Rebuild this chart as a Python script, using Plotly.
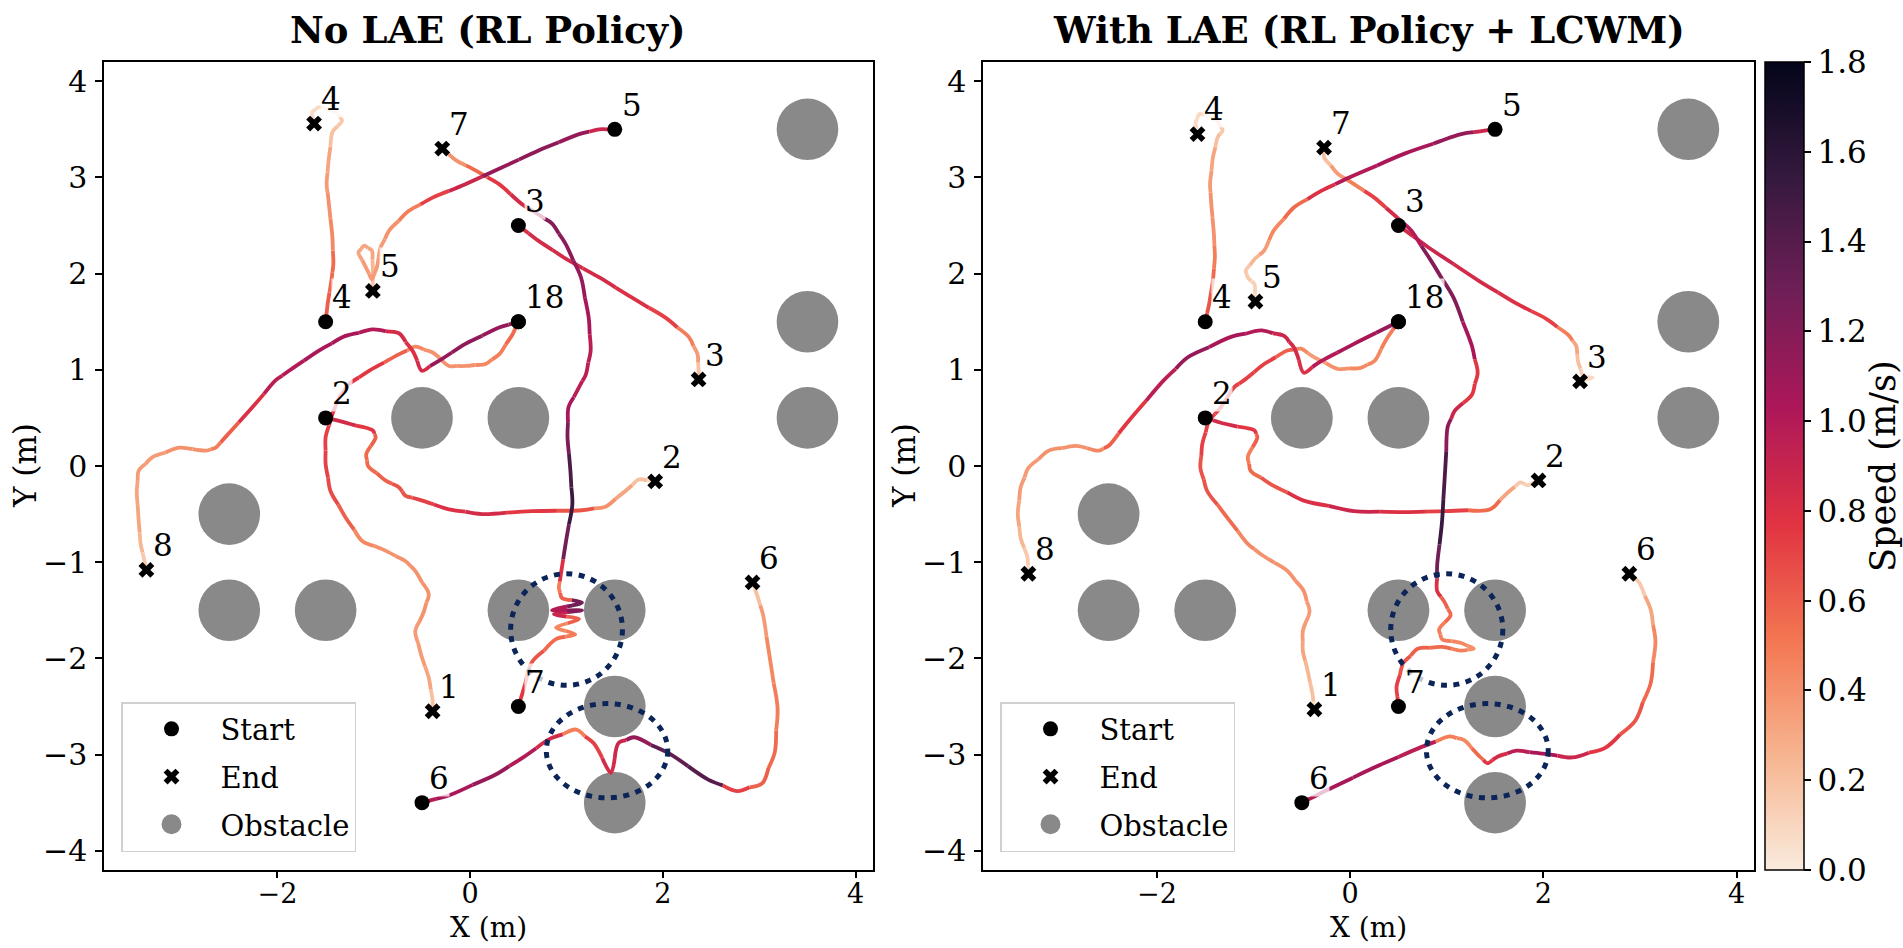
import plotly.graph_objects as go

FONT = "DejaVu Serif"
VMAX = 1.8

# ---------------- data ----------------
OBST_X = [3.5, 3.5, 3.5, -0.5, 0.5, -2.5, -2.5, -1.5, 0.5, 1.5, 1.5, 1.5]
OBST_Y = [3.5, 1.5, 0.5, 0.5, 0.5, -0.5, -1.5, -1.5, -1.5, -1.5, -2.5, -3.5]
OBST_R = 0.32

HL_CX = [1.0, 1.42]
HL_CY = [-1.7, -2.96]
HL_RX = [0.58, 0.63]
HL_RY = [0.58, 0.49]

AGENTS = ["1", "2", "3", "4", "5", "6", "7", "8"]
START_X = [0.5, -1.5, 0.5, -1.5, 1.5, -0.5, 0.5, 0.5]
START_Y = [1.5, 0.5, 2.5, 1.5, 3.5, -3.5, -2.5, 1.5]

END_X_L = [-0.39, 1.92, 2.37, -1.62, -1.01, 2.93, -0.29, -3.36]
END_Y_L = [-2.55, -0.16, 0.90, 3.56, 1.82, -1.21, 3.30, -1.08]
END_X_R = [-0.37, 1.95, 2.38, -1.58, -0.98, 2.89, -0.27, -3.33]
END_Y_R = [-2.53, -0.15, 0.88, 3.45, 1.71, -1.12, 3.31, -1.12]

# ---- Left panel (No LAE) trajectories: x, y, speed (m/s)
L1_X = [0.5, 0.44, 0.30, 0.16, -0.05, -0.22, -0.39, -0.57, -0.74, -1.05, -1.26, -1.36, -1.43, -1.50, -1.50, -1.45, -1.29, -1.12, -0.88, -0.67, -0.57, -0.43, -0.48, -0.57, -0.51, -0.43, -0.39, -0.39]
L1_Y = [1.5, 1.37, 1.16, 1.06, 1.04, 1.04, 1.18, 1.24, 1.16, 0.99, 0.85, 0.71, 0.54, 0.30, 0.02, -0.26, -0.54, -0.78, -0.88, -0.99, -1.09, -1.33, -1.51, -1.72, -1.96, -2.20, -2.44, -2.55]
L1_V = [0.6, 0.55, 0.5, 0.45, 0.4, 0.38, 0.4, 0.45, 0.6, 0.75, 0.75, 0.75, 0.75, 0.72, 0.7, 0.68, 0.6, 0.45, 0.4, 0.4, 0.4, 0.38, 0.38, 0.35, 0.35, 0.3, 0.2, 0.1]

L2_X = [-1.5, -1.36, -1.01, -0.98, -1.08, -1.06, -0.88, -0.74, -0.67, -0.53, -0.22, 0.12, 0.64, 1.16, 1.41, 1.61, 1.75, 1.92]
L2_Y = [0.5, 0.47, 0.37, 0.30, 0.12, 0.00, -0.15, -0.22, -0.31, -0.35, -0.45, -0.50, -0.47, -0.46, -0.42, -0.26, -0.14, -0.16]
L2_V = [0.85, 0.85, 0.75, 0.6, 0.55, 0.55, 0.6, 0.62, 0.65, 0.7, 0.8, 0.85, 0.75, 0.62, 0.42, 0.3, 0.2, 0.1]

L3_X = [0.5, 0.71, 1.00, 1.34, 1.68, 2.03, 2.27, 2.36, 2.37, 2.37]
L3_Y = [2.5, 2.34, 2.15, 1.96, 1.75, 1.54, 1.34, 1.16, 0.99, 0.90]
L3_V = [0.8, 0.85, 0.85, 0.85, 0.8, 0.7, 0.5, 0.35, 0.2, 0.1]

L4_X = [-1.5, -1.48, -1.44, -1.42, -1.43, -1.47, -1.49, -1.47, -1.43, -1.33, -1.39, -1.57, -1.64, -1.62]
L4_Y = [1.5, 1.68, 1.93, 2.10, 2.38, 2.76, 2.93, 3.17, 3.47, 3.59, 3.68, 3.73, 3.68, 3.56]
L4_V = [0.65, 0.6, 0.55, 0.55, 0.45, 0.4, 0.35, 0.3, 0.2, 0.15, 0.1, 0.1, 0.08, 0.05]

L5_X = [1.5, 1.34, 1.13, 0.71, 0.30, -0.05, -0.39, -0.64, -0.84, -0.93, -0.97, -1.02, -1.08, -1.16, -1.10, -1.02, -1.01, -1.01, -1.01]
L5_Y = [3.5, 3.50, 3.45, 3.28, 3.09, 2.93, 2.79, 2.65, 2.45, 2.27, 2.06, 1.94, 2.06, 2.22, 2.29, 2.24, 2.06, 1.89, 1.82]
L5_V = [0.75, 0.9, 1.1, 1.15, 1.1, 0.9, 0.7, 0.5, 0.4, 0.35, 0.35, 0.35, 0.35, 0.33, 0.32, 0.3, 0.25, 0.15, 0.1]

L6_X = [-0.5, -0.21, 0.26, 0.55, 0.82, 1.10, 1.28, 1.46, 1.54, 1.70, 2.05, 2.47, 2.77, 3.03, 3.16, 3.19, 3.11, 3.04, 2.98, 2.93]
L6_Y = [-3.5, -3.42, -3.21, -3.03, -2.84, -2.74, -2.88, -3.19, -2.88, -2.82, -2.98, -3.26, -3.38, -3.30, -2.98, -2.52, -2.00, -1.55, -1.35, -1.21]
L6_V = [1.0, 1.05, 1.1, 1.0, 0.85, 0.5, 0.7, 0.85, 0.9, 1.1, 1.35, 1.4, 0.7, 0.6, 0.55, 0.5, 0.45, 0.35, 0.2, 0.1]

L7_X = [0.5, 0.64, 0.89, 1.09, 0.89, 1.13, 0.87, 1.16, 0.85, 1.16, 0.95, 0.92, 0.94, 0.99, 1.06, 1.04, 1.01, 1.02, 1.13, 1.20, 1.25, 1.23, 1.15, 0.99, 0.85, 0.70, 0.54, 0.30, 0.06, -0.15, -0.29]
L7_Y = [-2.5, -2.04, -1.80, -1.75, -1.68, -1.59, -1.54, -1.50, -1.50, -1.42, -1.37, -1.27, -1.13, -0.81, -0.40, -0.05, 0.30, 0.61, 0.82, 0.95, 1.20, 1.54, 1.96, 2.31, 2.52, 2.62, 2.72, 2.93, 3.07, 3.18, 3.30]
L7_V = [0.75, 0.65, 0.55, 0.5, 0.45, 0.6, 0.9, 1.2, 1.0, 1.3, 0.6, 0.5, 0.8, 1.3, 1.5, 1.45, 1.25, 1.05, 0.95, 0.95, 0.95, 1.05, 1.1, 1.15, 1.2, 1.0, 0.85, 0.75, 0.55, 0.4, 0.2]

L8_X = [0.5, 0.30, -0.05, -0.33, -0.50, -0.60, -0.74, -1.01, -1.30, -1.57, -1.88, -2.02, -2.26, -2.54, -2.64, -2.74, -3.02, -3.30, -3.44, -3.46, -3.44, -3.42, -3.38, -3.36]
L8_Y = [1.5, 1.44, 1.27, 1.09, 0.99, 1.20, 1.38, 1.42, 1.35, 1.20, 0.99, 0.89, 0.61, 0.30, 0.19, 0.16, 0.19, 0.09, -0.05, -0.26, -0.57, -0.81, -0.99, -1.08]
L8_V = [1.1, 1.1, 1.15, 1.1, 0.85, 0.8, 0.85, 1.0, 1.05, 1.05, 1.0, 0.95, 0.8, 0.6, 0.5, 0.4, 0.38, 0.35, 0.35, 0.33, 0.3, 0.25, 0.15, 0.1]

# ---- Right panel (With LAE) trajectories
R1_X = [0.5, 0.39, 0.25, 0.11, -0.13, -0.37, -0.51, -0.65, -0.89, -1.10, -1.20, -1.34, -1.46, -1.53, -1.55, -1.48, -1.27, -1.06, -0.92, -0.65, -0.48, -0.42, -0.49, -0.49, -0.44, -0.39, -0.37]
R1_Y = [1.5, 1.34, 1.09, 1.02, 1.01, 1.13, 1.22, 1.20, 1.06, 0.89, 0.82, 0.61, 0.47, 0.23, -0.02, -0.26, -0.54, -0.81, -0.92, -1.09, -1.30, -1.51, -1.72, -1.92, -2.13, -2.37, -2.53]
R1_V = [0.6, 0.5, 0.45, 0.45, 0.4, 0.35, 0.45, 0.6, 0.7, 0.7, 0.7, 0.7, 0.7, 0.7, 0.65, 0.65, 0.55, 0.45, 0.4, 0.4, 0.4, 0.35, 0.35, 0.3, 0.25, 0.2, 0.1]

R2_X = [-1.5, -1.34, -0.99, -0.96, -1.06, -1.03, -0.82, -0.48, 0.04, 0.56, 0.99, 1.45, 1.65, 1.76, 1.84, 1.95]
R2_Y = [0.5, 0.45, 0.37, 0.30, 0.09, -0.05, -0.19, -0.36, -0.47, -0.48, -0.47, -0.45, -0.26, -0.17, -0.20, -0.15]
R2_V = [0.85, 0.85, 0.75, 0.6, 0.5, 0.55, 0.65, 0.8, 0.88, 0.8, 0.72, 0.55, 0.3, 0.15, 0.12, 0.1]

R3_X = [0.5, 0.80, 1.34, 1.72, 2.03, 2.26, 2.34, 2.36, 2.41, 2.51, 2.38]
R3_Y = [2.5, 2.28, 1.92, 1.69, 1.53, 1.36, 1.25, 1.08, 0.94, 0.92, 0.88]
R3_V = [0.85, 0.9, 0.85, 0.8, 0.7, 0.5, 0.3, 0.2, 0.12, 0.1, 0.1]

R4_X = [-1.5, -1.46, -1.42, -1.40, -1.41, -1.44, -1.45, -1.42, -1.37, -1.32, -1.37, -1.48, -1.56, -1.60, -1.58]
R4_Y = [1.5, 1.68, 1.93, 2.17, 2.41, 2.76, 2.93, 3.21, 3.42, 3.49, 3.58, 3.64, 3.66, 3.57, 3.45]
R4_V = [0.7, 0.65, 0.55, 0.5, 0.42, 0.38, 0.35, 0.3, 0.2, 0.15, 0.12, 0.1, 0.08, 0.07, 0.05]

R5_X = [1.5, 1.41, 1.15, 0.57, -0.01, -0.30, -0.58, -0.79, -0.89, -0.99, -1.08, -1.06, -0.99, -0.98]
R5_Y = [3.5, 3.49, 3.45, 3.25, 3.00, 2.86, 2.69, 2.45, 2.24, 2.15, 2.03, 1.96, 1.89, 1.71]
R5_V = [0.8, 0.9, 1.1, 1.05, 1.0, 0.8, 0.55, 0.45, 0.35, 0.25, 0.18, 0.15, 0.12, 0.1]

R6_X = [-0.5, -0.20, 0.26, 0.74, 1.03, 1.18, 1.34, 1.42, 1.53, 1.72, 1.99, 2.30, 2.64, 2.95, 3.11, 3.16, 3.11, 2.99, 2.89]
R6_Y = [-3.5, -3.35, -3.13, -2.92, -2.81, -2.85, -3.02, -3.09, -3.02, -2.96, -2.99, -3.03, -2.93, -2.65, -2.26, -1.82, -1.49, -1.21, -1.12]
R6_V = [1.0, 1.05, 1.05, 0.95, 0.5, 0.45, 0.55, 0.75, 0.85, 0.95, 1.05, 0.9, 0.75, 0.65, 0.55, 0.45, 0.3, 0.15, 0.1]

R7_X = [0.5, 0.48, 0.55, 0.70, 0.95, 1.15, 1.28, 1.15, 0.95, 0.92, 1.04, 0.98, 0.90, 0.90, 0.95, 0.98, 1.01, 1.08, 1.26, 1.32, 1.26, 1.07, 0.84, 0.63, 0.49, 0.25, 0.04, -0.13, -0.27, -0.27]
R7_Y = [-2.5, -2.30, -2.05, -1.90, -1.88, -1.92, -1.90, -1.84, -1.80, -1.70, -1.55, -1.42, -1.30, -1.04, -0.59, -0.10, 0.41, 0.57, 0.74, 0.97, 1.25, 1.75, 2.13, 2.45, 2.58, 2.79, 2.93, 3.04, 3.21, 3.31]
R7_V = [0.75, 0.72, 0.65, 0.6, 0.55, 0.5, 0.4, 0.45, 0.5, 0.5, 0.55, 0.6, 0.8, 1.3, 1.5, 1.45, 1.15, 0.9, 0.75, 0.75, 1.05, 1.2, 1.2, 1.0, 0.85, 0.7, 0.5, 0.35, 0.2, 0.1]

R8_X = [0.5, 0.04, -0.30, -0.48, -0.58, -0.68, -0.92, -1.24, -1.68, -1.93, -2.29, -2.50, -2.60, -2.84, -3.12, -3.33, -3.41, -3.44, -3.41, -3.34, -3.33]
R8_Y = [1.5, 1.27, 1.09, 0.97, 1.23, 1.35, 1.41, 1.34, 1.13, 0.89, 0.47, 0.21, 0.16, 0.21, 0.16, -0.02, -0.22, -0.50, -0.75, -0.95, -1.12]
R8_V = [1.1, 1.05, 1.0, 0.8, 0.85, 0.9, 1.0, 1.05, 1.1, 0.95, 0.75, 0.6, 0.45, 0.4, 0.4, 0.35, 0.35, 0.3, 0.25, 0.15, 0.1]

LEFT_TRAJ = [(L1_X, L1_Y, L1_V), (L2_X, L2_Y, L2_V), (L3_X, L3_Y, L3_V), (L4_X, L4_Y, L4_V),
             (L5_X, L5_Y, L5_V), (L6_X, L6_Y, L6_V), (L7_X, L7_Y, L7_V), (L8_X, L8_Y, L8_V)]
RIGHT_TRAJ = [(R1_X, R1_Y, R1_V), (R2_X, R2_Y, R2_V), (R3_X, R3_Y, R3_V), (R4_X, R4_Y, R4_V),
              (R5_X, R5_Y, R5_V), (R6_X, R6_Y, R6_V), (R7_X, R7_Y, R7_V), (R8_X, R8_Y, R8_V)]

TITLES = ["No LAE (RL Policy)", "With LAE (RL Policy + LCWM)"]
X_TITLE = "X (m)"
Y_TITLE = "Y (m)"
CB_TITLE = "Speed (m/s)"
CB_TICKS = [0.0, 0.2, 0.4, 0.6, 0.8, 1.0, 1.2, 1.4, 1.6, 1.8]
X_TICKS = [-2, 0, 2, 4]
Y_TICKS = [-4, -3, -2, -1, 0, 1, 2, 3, 4]

# ---------------- colours ----------------
ROCKET_R = [(0.0, "#faebdd"), (1/7, "#f6b48f"), (2/7, "#f37651"), (3/7, "#e13342"),
            (4/7, "#ad1759"), (5/7, "#701f57"), (6/7, "#35193e"), (1.0, "#03051a")]


def hex2rgb(h):
    h = h.lstrip("#")
    return tuple(int(h[i:i + 2], 16) for i in (0, 2, 4))


def speed_color(v):
    t = min(max(v / VMAX, 0.0), 1.0)
    for (t0, c0), (t1, c1) in zip(ROCKET_R[:-1], ROCKET_R[1:]):
        if t <= t1:
            f = (t - t0) / (t1 - t0) if t1 > t0 else 0
            a, b = hex2rgb(c0), hex2rgb(c1)
            return "rgb(%d,%d,%d)" % tuple(round(a[k] + f * (b[k] - a[k])) for k in range(3))
    return ROCKET_R[-1][1]


CS = [[t, "rgb(%d,%d,%d)" % hex2rgb(c)] for t, c in ROCKET_R]

# ---------------- layout geometry ----------------
W, H = 1903, 948
AX_L = [104, 983]
AX_R = [873, 1754]
AX_T, AX_B = 62, 870
XDOM = [[AX_L[i] / W, AX_R[i] / W] for i in range(2)]
YDOM = [1 - AX_B / H, 1 - AX_T / H]
XR = [-3.80, 4.18]
YR = [-4.2, 4.2]

fig = go.Figure()

BIN = 0.04


def add_trajectories(trajs, xa, ya):
    bins = {}
    for xs, ys, vs in trajs:
        n = len(xs)
        for i in range(n):
            px, py = [], []
            if i > 0:
                px.append((xs[i - 1] + xs[i]) / 2)
                py.append((ys[i - 1] + ys[i]) / 2)
            px.append(xs[i])
            py.append(ys[i])
            if i < n - 1:
                px.append((xs[i] + xs[i + 1]) / 2)
                py.append((ys[i] + ys[i + 1]) / 2)
            key = int(round(vs[i] / BIN))
            bx, by = bins.setdefault(key, ([], []))
            if bx:
                bx.append(None)
                by.append(None)
            bx.extend(px)
            by.extend(py)
    for key in sorted(bins):
        bx, by = bins[key]
        fig.add_trace(go.Scatter(
            x=bx, y=by, mode="lines", xaxis=xa, yaxis=ya,
            line=dict(color=speed_color(key * BIN), width=3.8, shape="spline", smoothing=1),
            hoverinfo="skip", showlegend=False, connectgaps=False))


panels = [("x", "y", LEFT_TRAJ, END_X_L, END_Y_L, "legend"),
          ("x2", "y2", RIGHT_TRAJ, END_X_R, END_Y_R, "legend2")]

shapes = []
annotations = []
for pi, (xa, ya, trajs, ex, ey, lg) in enumerate(panels):
    xref = xa
    yref = ya
    for ox, oy in zip(OBST_X, OBST_Y):
        shapes.append(dict(type="circle", xref=xref, yref=yref, x0=ox - OBST_R, x1=ox + OBST_R,
                           y0=oy - OBST_R, y1=oy + OBST_R, fillcolor="#898989",
                           line=dict(width=0), layer="below"))
    for cx, cy, rx, ry in zip(HL_CX, HL_CY, HL_RX, HL_RY):
        shapes.append(dict(type="circle", xref=xref, yref=yref, x0=cx - rx, x1=cx + rx,
                           y0=cy - ry, y1=cy + ry, fillcolor="rgba(0,0,0,0)",
                           line=dict(color="#0b2559", width=5, dash="6px,6.5px"), layer="above"))

    add_trajectories(trajs, xa, ya)

    fig.add_trace(go.Scatter(x=START_X, y=START_Y, mode="markers", xaxis=xa, yaxis=ya,
                             marker=dict(symbol="circle", size=15, color="black"),
                             name="Start", legend=lg, legendgroup="s%d" % pi, hoverinfo="skip"))
    fig.add_trace(go.Scatter(x=ex, y=ey, mode="markers", xaxis=xa, yaxis=ya,
                             marker=dict(symbol="x", size=14, color="black", line=dict(width=0)),
                             name="End", legend=lg, legendgroup="e%d" % pi, hoverinfo="skip"))
    fig.add_trace(go.Scatter(x=[None], y=[None], mode="markers", xaxis=xa, yaxis=ya,
                             marker=dict(symbol="circle", size=16, color="#898989",
                                         line=dict(width=4, color="#898989")),
                             name="Obstacle", legend=lg, legendgroup="o%d" % pi, hoverinfo="skip"))

    # labels (agents sharing a position share a label)
    groups = {}
    for lab, sx, sy in zip(AGENTS, START_X, START_Y):
        groups.setdefault((sx, sy), []).append(lab)
    for lab, px_, py_ in zip(AGENTS, ex, ey):
        groups.setdefault((px_, py_), []).append(lab)
    for (gx, gy), labs in groups.items():
        annotations.append(dict(x=gx + 0.06, y=gy + 0.06, xref=xref, yref=yref, text="".join(labs),
                                showarrow=False, xanchor="left", yanchor="bottom",
                                font=dict(family=FONT, size=31, color="black"),
                                bgcolor="rgba(255,255,255,0.75)", borderpad=0))

    axc = (XDOM[pi][0] + XDOM[pi][1]) / 2
    annotations.append(dict(x=axc, y=1 - 30 / H, xref="paper", yref="paper",
                            text=TITLES[pi], showarrow=False, xanchor="center", yanchor="middle",
                            font=dict(family=FONT, size=37, color="black", weight="bold")))
    annotations.append(dict(x=axc, y=2 / H, xref="paper", yref="paper",
                            text=X_TITLE, showarrow=False, xanchor="center", yanchor="bottom",
                            font=dict(family=FONT, size=28, color="black")))
    annotations.append(dict(x=(AX_L[pi] - 79) / W, y=(YDOM[0] + YDOM[1]) / 2, xref="paper", yref="paper",
                            text=Y_TITLE, showarrow=False, xanchor="center", yanchor="middle",
                            textangle=-90, font=dict(family=FONT, size=31, color="black")))

# colorbar title
annotations.append(dict(x=1883 / W, y=(YDOM[0] + YDOM[1]) / 2, xref="paper", yref="paper",
                        text=CB_TITLE, showarrow=False, xanchor="center", yanchor="middle",
                        textangle=-90, font=dict(family=FONT, size=35, color="black")))

# colorbar holder
fig.add_trace(go.Scatter(
    x=[None], y=[None], mode="markers", xaxis="x2", yaxis="y2", showlegend=False, hoverinfo="skip",
    marker=dict(color=[0], cmin=0, cmax=VMAX, colorscale=CS, showscale=True,
                colorbar=dict(x=1765 / W, xanchor="left", y=1 - (AX_T + AX_B) / 2 / H, yanchor="middle",
                              len=(AX_B - AX_T) / H, lenmode="fraction", thickness=39,
                              thicknessmode="pixels",
                              outlinewidth=1.5, outlinecolor="black", xpad=0, ypad=0,
                              tickvals=CB_TICKS, ticktext=["%.1f" % v for v in CB_TICKS],
                              ticks="outside", ticklen=7, tickwidth=1.5, tickcolor="black",
                              tickfont=dict(family=FONT, size=31, color="black")))))

axis_common = dict(showline=True, linecolor="black", linewidth=1.5, mirror=True, ticks="outside",
                   tickwidth=1.5, tickcolor="black", showgrid=False, zeroline=False)
XTF = dict(family=FONT, size=27, color="black")
YTF = dict(family=FONT, size=30, color="black")

legend_common = dict(xanchor="left", yanchor="bottom", bgcolor="rgba(255,255,255,0.85)",
                     bordercolor="#d0d0d0", borderwidth=1.5,
                     font=dict(family=FONT, size=29, color="black"),
                     tracegroupgap=7, traceorder="grouped", itemwidth=88)

fig.update_layout(
    width=W, height=H, margin=dict(l=0, r=0, t=0, b=0),
    paper_bgcolor="white", plot_bgcolor="white",
    xaxis=dict(domain=XDOM[0], range=XR, tickvals=X_TICKS, anchor="y", ticklabelstandoff=-7,
               ticklen=6, tickfont=XTF, **axis_common),
    yaxis=dict(domain=YDOM, range=YR, tickvals=Y_TICKS, anchor="x", ticklabelstandoff=2,
               ticklen=7, tickfont=YTF, **axis_common),
    xaxis2=dict(domain=XDOM[1], range=XR, tickvals=X_TICKS, anchor="y2", ticklabelstandoff=-7,
                ticklen=6, tickfont=XTF, **axis_common),
    yaxis2=dict(domain=YDOM, range=YR, tickvals=Y_TICKS, anchor="x2", ticklabelstandoff=2,
                ticklen=7, tickfont=YTF, **axis_common),
    legend=dict(x=121 / W, y=1 - 852 / H, **legend_common),
    legend2=dict(x=1000 / W, y=1 - 852 / H, **legend_common),
    shapes=shapes, annotations=annotations,
)

fig.write_html("out.html", config={"displayModeBar": False},
               post_script="document.body.style.margin='0px';")
